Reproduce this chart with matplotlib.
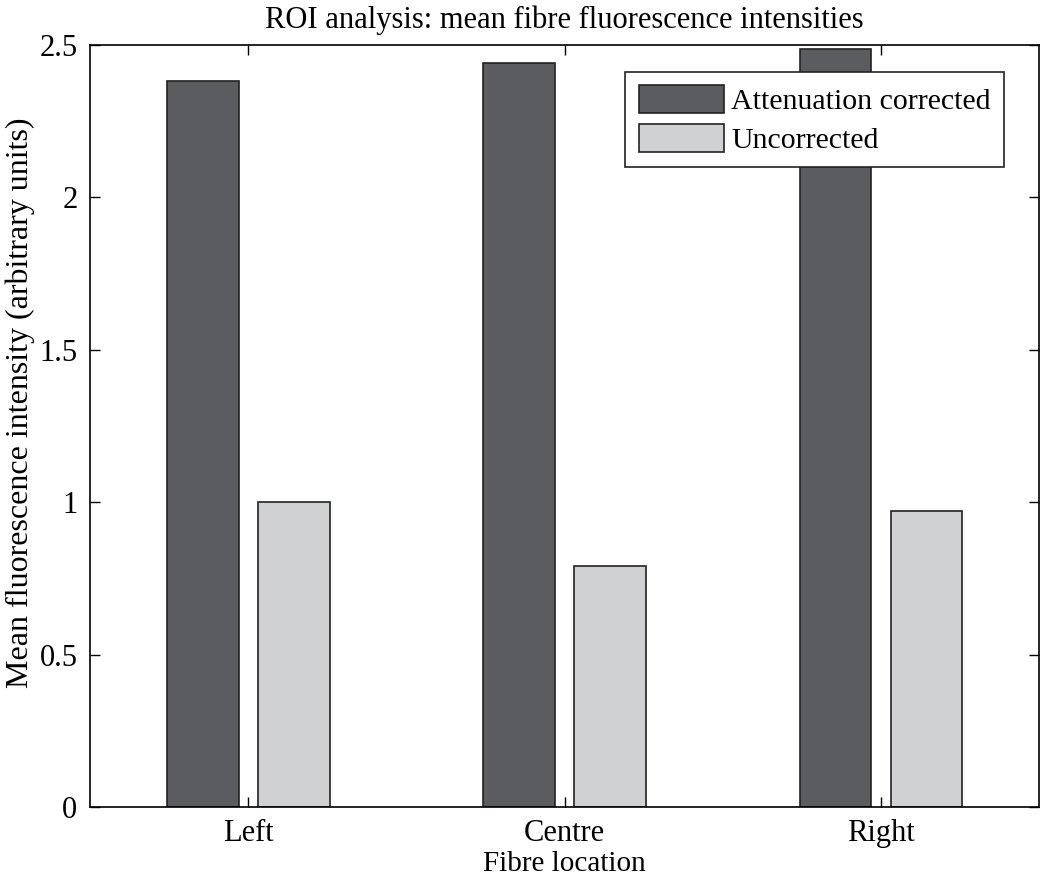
import matplotlib
matplotlib.use("Agg")
import matplotlib.pyplot as plt
import numpy as np

# data
locations = ["Left", "Centre", "Right"]
corrected = [2.38, 2.44, 2.487]
uncorrected = [1.00, 0.79, 0.97]

plt.rcParams['font.family'] = ['Liberation Serif', 'DejaVu Serif']

fig = plt.figure(figsize=(10.5, 8.8), dpi=100)
ax = fig.add_axes((0.0857, 0.083, 0.904, 0.866))

x = np.arange(1, len(locations) + 1)
w = 0.227
off = 0.144
ax.bar(x - off, corrected, w, color='#5b5c60', edgecolor='#222222',
       linewidth=1.2, label='Attenuation corrected')
ax.bar(x + off, uncorrected, w, color='#d0d1d3', edgecolor='#222222',
       linewidth=1.2, label='Uncorrected')

ax.set_xlim(0.5, 3.5)
ax.set_ylim(0, 2.5)
ax.set_xticks(x)
ax.set_xticklabels(locations)
ax.set_yticks([0, 0.5, 1, 1.5, 2, 2.5])
ax.set_yticklabels(['0', '0.5', '1', '1.5', '2', '2.5'])
ax.tick_params(direction='in', top=True, right=True, length=7,
               labelsize=22, width=1)
ax.tick_params(axis='x', pad=9)
ax.tick_params(axis='y', pad=9)
for s in ax.spines.values():
    s.set_linewidth(1.2)

ax.set_title("ROI analysis: mean fibre fluorescence intensities",
             fontsize=22, pad=12)
ax.set_xlabel("Fibre location", fontsize=21, labelpad=2)
ax.set_ylabel("Mean fluorescence intensity (arbitrary units)", fontsize=23)
ax.yaxis.set_label_coords(-0.058, 0.53)

leg = ax.legend(loc='upper right', bbox_to_anchor=(0.963, 0.965),
                borderaxespad=0, fontsize=21.5, fancybox=False,
                edgecolor='#222222', framealpha=1,
                handlelength=2.85, handleheight=1.05, labelspacing=0.3,
                handletextpad=0.25, borderpad=0.45)
leg.get_frame().set_linewidth(1.2)

fig.savefig("out.png", dpi=100)
